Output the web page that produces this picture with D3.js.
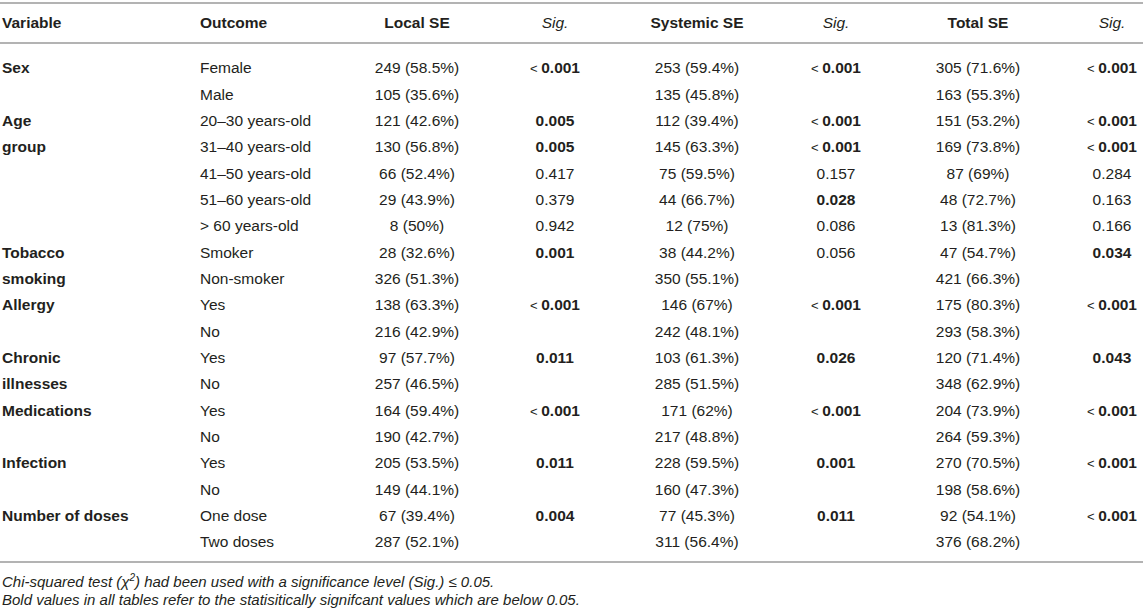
<!DOCTYPE html>
<html>
<head>
<meta charset="utf-8">
<script src="https://cdn.jsdelivr.net/npm/d3@7"></script>
<style>
  html, body { margin: 0; padding: 0; background: #fff; }
  svg text { font-family: "Liberation Sans", Arial, Helvetica, sans-serif; fill: #231f20; }
</style>
</head>
<body>
<div id="table"></div>
<script>
const headers = ['Variable', 'Outcome', 'Local SE', 'Sig.', 'Systemic SE', 'Sig.', 'Total SE', 'Sig.'];
const variables = ['Sex', '', 'Age', 'group', '', '', '', 'Tobacco', 'smoking', 'Allergy', '', 'Chronic', 'illnesses', 'Medications', '', 'Infection', '', 'Number of doses', ''];
const outcomes = ['Female', 'Male', '20–30 years-old', '31–40 years-old', '41–50 years-old', '51–60 years-old', '> 60 years-old', 'Smoker', 'Non-smoker', 'Yes', 'No', 'Yes', 'No', 'Yes', 'No', 'Yes', 'No', 'One dose', 'Two doses'];
const localSE = ['249 (58.5%)', '105 (35.6%)', '121 (42.6%)', '130 (56.8%)', '66 (52.4%)', '29 (43.9%)', '8 (50%)', '28 (32.6%)', '326 (51.3%)', '138 (63.3%)', '216 (42.9%)', '97 (57.7%)', '257 (46.5%)', '164 (59.4%)', '190 (42.7%)', '205 (53.5%)', '149 (44.1%)', '67 (39.4%)', '287 (52.1%)'];
const localSig = ['< 0.001', '', '0.005', '0.005', '0.417', '0.379', '0.942', '0.001', '', '< 0.001', '', '0.011', '', '< 0.001', '', '0.011', '', '0.004', ''];
const systemicSE = ['253 (59.4%)', '135 (45.8%)', '112 (39.4%)', '145 (63.3%)', '75 (59.5%)', '44 (66.7%)', '12 (75%)', '38 (44.2%)', '350 (55.1%)', '146 (67%)', '242 (48.1%)', '103 (61.3%)', '285 (51.5%)', '171 (62%)', '217 (48.8%)', '228 (59.5%)', '160 (47.3%)', '77 (45.3%)', '311 (56.4%)'];
const systemicSig = ['< 0.001', '', '< 0.001', '< 0.001', '0.157', '0.028', '0.086', '0.056', '', '< 0.001', '', '0.026', '', '< 0.001', '', '0.001', '', '0.011', ''];
const totalSE = ['305 (71.6%)', '163 (55.3%)', '151 (53.2%)', '169 (73.8%)', '87 (69%)', '48 (72.7%)', '13 (81.3%)', '47 (54.7%)', '421 (66.3%)', '175 (80.3%)', '293 (58.3%)', '120 (71.4%)', '348 (62.9%)', '204 (73.9%)', '264 (59.3%)', '270 (70.5%)', '198 (58.6%)', '92 (54.1%)', '376 (68.2%)'];
const totalSig = ['< 0.001', '', '< 0.001', '< 0.001', '0.284', '0.163', '0.166', '0.034', '', '< 0.001', '', '0.043', '', '< 0.001', '', '< 0.001', '', '< 0.001', ''];
const notes = ['Bold values in all tables refer to the statisitically signifcant values which are below 0.05.'];

const W = 1143, H = 613;
const svg = d3.select('#table').append('svg').attr('width', W).attr('height', H);

// column anchors: [x, text-anchor]
const cols = [[2, 'start'], [200, 'start'], [417, 'middle'], [555, 'middle'], [697, 'middle'], [836, 'middle'], [978, 'middle'], [1112, 'middle']];
const colData = [variables, outcomes, localSE, localSig, systemicSE, systemicSig, totalSE, totalSig];

const y = d3.scalePoint().domain(d3.range(outcomes.length)).range([68, 542]);
const FS = '15.5px';

const rule = (yy) => svg.append('line').attr('x1', 0).attr('x2', W).attr('y1', yy).attr('y2', yy)
  .attr('stroke', '#b3b3b3').attr('stroke-width', 2);
rule(3); rule(43); rule(562);

// header
svg.selectAll('text.hdr').data(headers).enter().append('text')
  .attr('class', 'hdr')
  .attr('x', (d, i) => cols[i][0]).attr('y', 23).attr('dy', '0.35em')
  .attr('text-anchor', (d, i) => cols[i][1])
  .style('font-size', FS)
  .style('font-weight', d => d === 'Sig.' ? 'normal' : 'bold')
  .style('font-style', d => d === 'Sig.' ? 'italic' : 'normal')
  .text(d => d);

const isSig = v => v.startsWith('<') || (v !== '' && +v <= 0.05);

colData.forEach((arr, ci) => {
  const t = svg.selectAll(null).data(arr).enter().append('text')
    .attr('x', cols[ci][0]).attr('y', (d, i) => y(i)).attr('dy', '0.35em')
    .attr('text-anchor', cols[ci][1])
    .style('font-size', FS);
  if (ci === 0) {
    t.style('font-weight', 'bold').text(d => d);
  } else if (ci === 3 || ci === 5 || ci === 7) {
    t.each(function(d) {
      const el = d3.select(this);
      if (!d) return;
      if (d.startsWith('<')) {
        el.append('tspan').style('font-size', '13px').text('< ');
        el.append('tspan').style('font-weight', 'bold').text(d.slice(2));
      } else {
        el.append('tspan').style('font-weight', isSig(d) ? 'bold' : 'normal').text(d);
      }
    });
  } else {
    t.text(d => d);
  }
});

// footnotes
const f1 = svg.append('text').attr('x', 2).attr('y', 582).attr('dy', '0.35em')
  .style('font-size', '15px').style('font-style', 'italic');
f1.append('tspan').text('Chi-squared test (χ');
f1.append('tspan').attr('dy', -6).style('font-size', '10px').text('2');
f1.append('tspan').attr('dy', 6).text(') had been used with a significance level (Sig.) ≤ 0.05.');
svg.selectAll('text.note').data(notes).enter().append('text')
  .attr('class', 'note')
  .attr('x', 2).attr('y', 600).attr('dy', '0.35em')
  .style('font-size', '15px').style('font-style', 'italic')
  .text(d => d);
</script>
</body>
</html>
